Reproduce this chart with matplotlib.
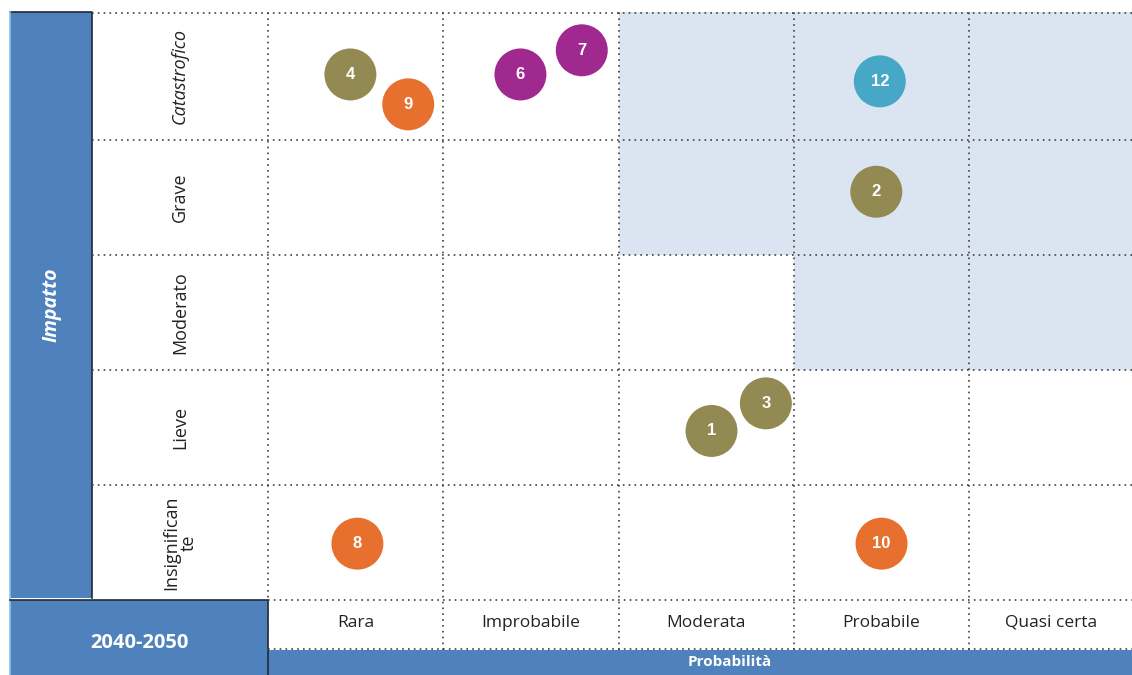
import matplotlib
matplotlib.use("Agg")
import matplotlib.pyplot as plt
from matplotlib.patches import Rectangle

# dati
probabilita = ["Rara", "Improbabile", "Moderata", "Probabile", "Quasi certa"]
impatto = ["Insignifican\nte", "Lieve", "Moderato", "Grave", "Catastrofico"]
periodo = "2040-2050"

# celle evidenziate (indice probabilita, indice impatto)
celle_x = [2, 3, 4, 2, 3, 4, 3, 4]
celle_y = [4, 4, 4, 3, 3, 3, 2, 2]

# rischi: etichetta, posizione (in unita di cella), colore
rischi_id = ["4", "9", "6", "7", "12", "2", "3", "1", "8", "10"]
rischi_x = [0.47, 0.80, 1.44, 1.79, 3.49, 3.47, 2.84, 2.53, 0.51, 3.50]
rischi_y = [4.57, 4.31, 4.57, 4.78, 4.51, 3.55, 1.71, 1.47, 0.49, 0.49]
rischi_col = ["#938953", "#E8702F", "#A0298F", "#A0298F", "#46A8C6",
              "#938953", "#938953", "#938953", "#E8702F", "#E8702F"]

blu = "#4F81BD"
blu_chiaro = "#DBE5F1"
punti = "#404040"
W, H = 1132, 675

plt.rcParams['font.family'] = ['Open Sans', 'DejaVu Sans']
fig = plt.figure(figsize=(W / 100, H / 100), dpi=100)

# sfondo in pixel per le bande blu
bg = fig.add_axes([0, 0, 1, 1])
bg.set_xlim(0, W)
bg.set_ylim(H, 0)
bg.axis("off")
bg.add_patch(Rectangle((10, 12), 82, 586, facecolor=blu, edgecolor="none"))
bg.plot([10, 92, 92], [12, 12, 598], color="#1F2A3A", lw=1.2)
bg.plot([10, 10], [12, 675], color="#8DC3E8", lw=1.2)
bg.add_patch(Rectangle((10, 600), 258, 75, facecolor=blu, edgecolor="none"))
bg.plot([10, 268, 268], [600, 600, 675], color="#1F2A3A", lw=1.2)
bg.add_patch(Rectangle((268, 650), W - 268, 25, facecolor=blu, edgecolor="none"))
bg.text(51, 305, "Impatto", rotation=90, color="white", fontsize=14,
        fontweight="bold", fontstyle="italic", ha="center", va="center")
bg.text(139, 643, periodo, color="white", fontsize=14.5, fontweight="bold",
        ha="center", va="center")
bg.text(730, 662, "Probabilità", color="white", fontsize=11, fontweight="bold",
        ha="center", va="center")

# griglia in unita di cella
cw = 175.3
rh = 115.0
x0 = (92 - 268) / cw
x1 = (W - 268) / cw
y0 = -(650 - 600) / rh
y1 = (600 - 12) / rh
ax = fig.add_axes([92 / W, (H - 650) / H, (W - 92) / W, 638 / H])
ax.set_xlim(x0, x1)
ax.set_ylim(y0, y1)
ax.axis("off")

for cx, cy in zip(celle_x, celle_y):
    top = y1 if cy == 4 else cy + 1
    ax.add_patch(Rectangle((cx, cy), 1, top - cy, facecolor=blu_chiaro,
                           edgecolor="none", zorder=0))

stile = dict(color=punti, lw=1.2, linestyle=(0, (1, 2.5)), zorder=1)
for r in range(1, 5):
    ax.plot([x0, x1], [r, r], **stile)
ax.plot([x0, x1], [y1 - 0.01, y1 - 0.01], **stile)
ax.plot([0, x1], [0, 0], **stile)
ax.plot([0, x1], [y0 + 0.01, y0 + 0.01], **stile)
for c in range(0, 5):
    ax.plot([c, c], [y0, y1], **stile)

for i, lab in enumerate(probabilita):
    xc = i + 0.5 if i < 4 else (4 + x1) / 2
    ax.text(xc, y0 / 2 + 0.02, lab, ha="center", va="center", fontsize=12.5,
            color="#222222")

for j, lab in enumerate(impatto):
    yc = j + 0.5 if j < 4 else (4 + y1) / 2
    ax.text(x0 / 2, yc, lab, rotation=90, ha="center", va="center",
            fontsize=13, color="#222222",
            fontstyle="italic" if j == 4 else "normal", linespacing=1.0)

ax.scatter(rischi_x, rischi_y, s=1400, c=rischi_col, edgecolors="none", zorder=3)
for lab, x, y in zip(rischi_id, rischi_x, rischi_y):
    ax.text(x, y, lab, color="white", fontsize=12, fontweight="bold",
            ha="center", va="center", zorder=4, family=["Liberation Sans"])

fig.savefig("out.png", dpi=100)
